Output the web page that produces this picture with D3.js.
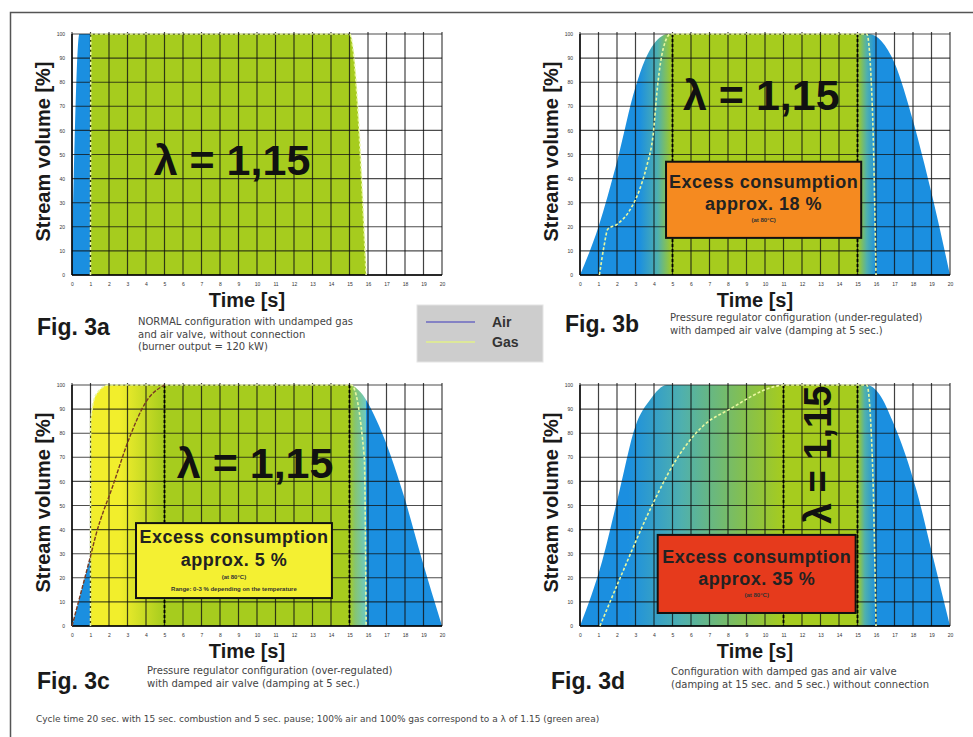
<!DOCTYPE html>
<html>
<head>
<meta charset="utf-8">
<script src="https://cdn.jsdelivr.net/npm/d3@7"></script>
<style>
body { margin: 0; background: #fff; }
svg { display: block; font-family: "Liberation Sans", Arial, sans-serif; }
</style>
</head>
<body>
<div id="chart"></div>
<script>
// ---- data ----
var timeTicks = [0,1,2,3,4,5,6,7,8,9,10,11,12,13,14,15,16,17,18,19,20];
var volumeTicks = [0,10,20,30,40,50,60,70,80,90,100];

var figNames = ["Fig. 3a", "Fig. 3b", "Fig. 3c", "Fig. 3d"];
var lambdaText = "\u03bb = 1,15";

var captions = [
  ["NORMAL configuration with undamped gas", "and air valve, without connection", "(burner output = 120 kW)"],
  ["Pressure regulator configuration (under-regulated)", "with damped air valve (damping at 5 sec.)"],
  ["Pressure regulator configuration (over-regulated)", "with damped air valve (damping at 5 sec.)"],
  ["Configuration with damped gas and air valve", "(damping at 15 sec. and 5 sec.) without connection"]
];
var footnote = "Cycle time 20 sec. with 15 sec. combustion and 5 sec. pause; 100% air and 100% gas correspond to a \u03bb of 1.15 (green area)";

var excessTitle = "Excess consumption";
var excessValues = [null, "approx. 18 %", "approx. 5 %", "approx. 35 %"];
var excessNotes = [null, ["(at 80\u00b0C)"], ["(at 80\u00b0C)", "Range: 0-3 % depending on the temperature"], ["(at 80\u00b0C)"]];

// [time s, stream volume %]
var airA = [[0,0],[0.4,100],[15,100],[15.9,0]];
var gasA = [[1,0],[1.02,100],[15,100],[15.9,0]];

var airB = [[0,0],[1,20],[2,47],[3,78],[3.5,89],[4,96],[4.8,100],[15.6,100],[16.3,97],[17,88],[18,64],[19,34],[20,0]];
var gasB = [[1.05,0],[1.3,12],[1.5,19],[2,21],[2.7,27],[3.2,35],[3.6,45],[3.95,58],[4.2,79],[4.5,94],[4.9,100],[15.5,100],[15.8,70],[16,0]];

var airC = [[0,0],[1,29],[1.3,38],[2.2,58],[3.1,78],[4,93],[5,100],[15,100],[15.6,97],[16.6,83],[17.9,55],[18.9,28],[20,0]];
var gasC = [[1,0],[1.01,85],[1.3,96],[2,100],[15.1,100],[15.8,70],[15.9,0]];

var airD = [[0,0],[1.2,27],[2.1,55],[3,83],[3.8,94],[4.7,100],[15.5,100],[16.2,96],[16.9,85],[18.2,56],[19.1,28],[20,0]];
var gasD = [[1.08,0],[2.34,23],[3.77,48],[5.2,69],[6.65,83],[8.1,90],[10.6,99.5],[11,100],[15.5,100],[15.8,70],[16,0]];

// lambda zone borders (dashed verticals)
var zoneA = [];
var zoneB = [5, 15];
var zoneC = [5, 15];
var zoneD = [11, 15];

// ---- layout ----
var W = 973, H = 737;
var pw = 370, ph = 241;

var blue = "#1b8fe0", teal = "#4fb0ae", green = "#a6cc1e", yellow = "#f2ee2c";

var panels = [
  {left: 72, top: 34, air: airA, gas: gasA, zone: zoneA,
   stops: [[0,blue],[1,blue],[1,green],[20,green]],
   lambda: {t: 8.65, v: 41.5, rot: false},
   fig: {x: 37, y: 335}, cap: {x: 138, y: 325},
   airLine: null},
  {left: 580, top: 34, air: airB, gas: gasB, zone: zoneB,
   stops: [[0,blue],[3.2,blue],[4.2,teal],[5,green],[15,green],[15.5,teal],[16,blue],[20,blue]],
   lambda: {t: 9.8, v: 68.5, rot: false},
   box: {t0: 4.65, t1: 15.2, v0: 15.4, v1: 47, fill: "#f58a20", dy: [26, 48, 60]},
   fig: {x: 565, y: 332}, cap: {x: 670, y: 321},
   airLine: null},
  {left: 72, top: 385, air: airC, gas: gasC, zone: zoneC,
   stops: [[0,blue],[1,blue],[1,yellow],[2.6,yellow],[5,green],[15,green],[15.3,"#86c472"],[15.9,"#6ccac4"],[15.9,blue],[20,blue]],
   lambda: {t: 9.9, v: 61.4, rot: false},
   box: {t0: 3.46, t1: 14.05, v0: 11.6, v1: 42.7, fill: "#f4f032", dy: [20, 43, 56, 68]},
   fig: {x: 37, y: 689}, cap: {x: 147, y: 674},
   airLine: "#7a3b22"},
  {left: 580, top: 385, air: airD, gas: gasD, zone: zoneD,
   stops: [[0,blue],[2.6,blue],[5.5,teal],[9,"#86c04c"],[11,green],[15,green],[15.4,teal],[16,blue],[20,blue]],
   lambda: {t: 13.55, v: 71, rot: true},
   box: {t0: 4.2, t1: 14.9, v0: 5.4, v1: 37.8, fill: "#e63a1c", dy: [28, 50, 62]},
   fig: {x: 551, y: 689}, cap: {x: 671, y: 675},
   airLine: null}
];

var svg = d3.select("#chart")
  .append("svg")
    .attr("width", W)
    .attr("height", H);

var defs = svg.append("defs");

// outer frame
svg.append("path")
  .attr("d", "M10.5," + H + " L10.5,12.5 L" + W + ",12.5")
  .attr("fill", "none")
  .attr("stroke", "#555")
  .attr("stroke-width", 1.5);

var x = d3.scaleLinear().domain([0, 20]).range([0, pw]);
var y = d3.scaleLinear().domain([0, 100]).range([ph, 0]);

var area = d3.area()
  .x(function(d){ return x(d[0]); })
  .y0(ph)
  .y1(function(d){ return y(d[1]); })
  .curve(d3.curveMonotoneX);

var line = d3.line()
  .x(function(d){ return x(d[0]); })
  .y(function(d){ return y(d[1]); })
  .curve(d3.curveMonotoneX);

panels.forEach(function(p, i) {
  var g = svg.append("g")
    .attr("transform", "translate(" + p.left + "," + p.top + ")");

  // horizontal gradient over time, in the panel's own coordinates
  var gid = "grad" + i;
  var grad = defs.append("linearGradient")
    .attr("id", gid)
    .attr("gradientUnits", "userSpaceOnUse")
    .attr("x1", x(0)).attr("x2", x(20))
    .attr("y1", 0).attr("y2", 0);
  grad.selectAll("stop")
    .data(p.stops)
    .enter()
    .append("stop")
      .attr("offset", function(d){ return d[0] / 20; })
      .attr("stop-color", function(d){ return d[1]; });

  g.append("path").datum(p.air)
    .attr("d", area)
    .attr("fill", "url(#" + gid + ")");
  g.append("path").datum(p.gas)
    .attr("d", area)
    .attr("fill", "url(#" + gid + ")");

  // grid
  g.selectAll("vgrid")
    .data(timeTicks)
    .enter()
    .append("line")
      .attr("x1", function(d){ return x(d); })
      .attr("x2", function(d){ return x(d); })
      .attr("y1", -2)
      .attr("y2", ph)
      .attr("stroke", "#111")
      .attr("stroke-opacity", 0.8)
      .attr("stroke-width", 1.2);
  g.selectAll("hgrid")
    .data(volumeTicks)
    .enter()
    .append("line")
      .attr("x1", 0)
      .attr("x2", pw)
      .attr("y1", function(d){ return y(d); })
      .attr("y2", function(d){ return y(d); })
      .attr("stroke", "#111")
      .attr("stroke-opacity", 0.75)
      .attr("stroke-width", 1.1);

  // axes
  g.append("line")
    .attr("x1", 0).attr("x2", pw).attr("y1", ph).attr("y2", ph)
    .attr("stroke", "#000").attr("stroke-width", 1.6);
  g.append("line")
    .attr("x1", 0).attr("x2", 0).attr("y1", 0).attr("y2", ph)
    .attr("stroke", "#000").attr("stroke-width", 1.4);

  var xAxis = g.append("g")
    .attr("transform", "translate(0," + (ph + 4) + ")")
    .call(d3.axisBottom(x).tickValues(timeTicks).tickSize(0).tickFormat(d3.format("d")));
  xAxis.select(".domain").remove();
  xAxis.selectAll("text").style("font-size", "5px").attr("fill", "#333");

  var yAxis = g.append("g")
    .attr("transform", "translate(-4,0)")
    .call(d3.axisLeft(y).tickValues(volumeTicks).tickSize(0).tickFormat(d3.format("d")));
  yAxis.select(".domain").remove();
  yAxis.selectAll("text").style("font-size", "5px").attr("fill", "#333");

  // lambda zone borders
  g.selectAll("zone")
    .data(p.zone)
    .enter()
    .append("line")
      .attr("x1", function(d){ return x(d); })
      .attr("x2", function(d){ return x(d); })
      .attr("y1", 0)
      .attr("y2", ph)
      .attr("stroke", "#000")
      .attr("stroke-width", 1.8)
      .attr("stroke-dasharray", "3,2");

  // gas line
  g.append("path").datum(p.gas)
    .attr("d", line)
    .attr("fill", "none")
    .attr("stroke", "#e9f7a0")
    .attr("stroke-width", 1.6)
    .attr("stroke-dasharray", "3,2");

  if (p.airLine) {
    g.append("path").datum(p.air.filter(function(d){ return d[0] <= 5; }))
      .attr("d", line)
      .attr("fill", "none")
      .attr("stroke", p.airLine)
      .attr("stroke-width", 1.4)
      .attr("stroke-dasharray", "4,1.5");
  }

  // excess box
  if (p.box) {
    var bx = x(p.box.t0), by = y(p.box.v1);
    var bw = x(p.box.t1) - bx, bh = y(p.box.v0) - by;
    g.append("rect")
      .attr("x", bx).attr("y", by)
      .attr("width", bw).attr("height", bh)
      .attr("fill", p.box.fill)
      .attr("stroke", "#111")
      .attr("stroke-width", 2);
    var cx = bx + bw / 2;
    g.append("text")
      .attr("x", cx).attr("y", by + p.box.dy[0])
      .attr("text-anchor", "middle")
      .style("font-size", "18px").style("font-weight", "bold")
      .style("letter-spacing", "0.5px")
      .attr("fill", "#222")
      .text(excessTitle);
    g.append("text")
      .attr("x", cx).attr("y", by + p.box.dy[1])
      .attr("text-anchor", "middle")
      .style("font-size", "18px").style("font-weight", "bold")
      .style("letter-spacing", "0.5px")
      .attr("fill", "#222")
      .text(excessValues[i]);
    excessNotes[i].forEach(function(n, k) {
      g.append("text")
        .attr("x", cx).attr("y", by + p.box.dy[2 + k])
        .attr("text-anchor", "middle")
        .style("font-size", "6px").style("font-weight", "bold")
        .attr("fill", "#333")
        .text(n);
    });
  }

  // lambda label
  var lt = g.append("text")
    .attr("text-anchor", "middle")
    .style("font-weight", "bold")
    .attr("fill", "#111")
    .text(lambdaText);
  if (p.lambda.rot) {
    lt.style("font-size", "38px")
      .attr("transform", "translate(" + x(p.lambda.t) + "," + y(p.lambda.v) + ")rotate(-90)");
  } else {
    lt.style("font-size", "43px")
      .attr("x", x(p.lambda.t)).attr("y", y(p.lambda.v));
  }

  // axis titles
  g.append("text")
    .attr("transform", "translate(-22," + (ph / 2 - 3) + ")rotate(-90)")
    .attr("text-anchor", "middle")
    .style("font-size", "20px").style("font-weight", "bold")
    .attr("fill", "#1a1a1a")
    .text("Stream volume [%]");
  g.append("text")
    .attr("x", pw / 2 - 10).attr("y", ph + 32)
    .attr("text-anchor", "middle")
    .style("font-size", "20px").style("font-weight", "bold")
    .attr("fill", "#1a1a1a")
    .text("Time [s]");

  // figure name and caption
  svg.append("text")
    .attr("x", p.fig.x).attr("y", p.fig.y)
    .style("font-size", "23px").style("font-weight", "bold")
    .attr("fill", "#1a1a1a")
    .text(figNames[i]);
  captions[i].forEach(function(c, k) {
    svg.append("text")
      .attr("x", p.cap.x).attr("y", p.cap.y + k * 12.5)
      .style("font-family", "'DejaVu Sans', sans-serif")
      .style("font-size", "10px")
      .attr("fill", "#444")
      .text(c);
  });
});

// legend
var legend = svg.append("g").attr("transform", "translate(417,305)");
legend.append("rect")
  .attr("width", 126).attr("height", 57)
  .attr("fill", "#cdcdcd")
  .attr("stroke", "#e4e4e4");
var legendItems = [["Air", "#8482c4"], ["Gas", "#dde89a"]];
legend.selectAll("lg")
  .data(legendItems)
  .enter()
  .append("line")
    .attr("x1", 9).attr("x2", 58)
    .attr("y1", function(d, k){ return 17 + k * 20; })
    .attr("y2", function(d, k){ return 17 + k * 20; })
    .attr("stroke", function(d){ return d[1]; })
    .attr("stroke-width", 2);
legend.selectAll("lt")
  .data(legendItems)
  .enter()
  .append("text")
    .attr("x", 75)
    .attr("y", function(d, k){ return 22 + k * 20; })
    .style("font-size", "14px").style("font-weight", "bold")
    .attr("fill", "#333")
    .text(function(d){ return d[0]; });

// footnote
svg.append("text")
  .attr("x", 36).attr("y", 722)
  .style("font-family", "'DejaVu Sans', sans-serif")
  .style("font-size", "9px")
  .attr("fill", "#444")
  .text(footnote);
</script>
</body>
</html>
